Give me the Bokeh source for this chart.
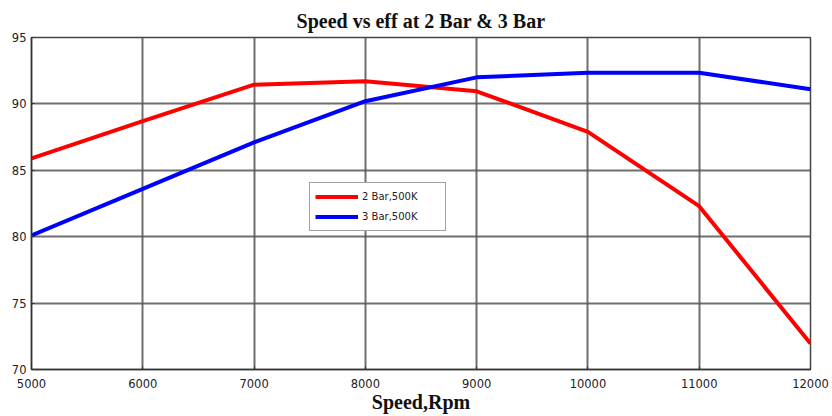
from bokeh.plotting import figure
from bokeh.models import Range1d, FixedTicker, Legend, LegendItem
from bokeh.embed import file_html
from bokeh.resources import INLINE

speed = [5000, 6000, 7000, 8000, 9000, 10000, 11000, 12000]
eff_2bar = [85.9, 88.7, 91.45, 91.7, 90.95, 87.9, 82.3, 71.95]
eff_3bar = [80.1, 83.6, 87.1, 90.2, 92.0, 92.35, 92.35, 91.1]
x_ticks = [5000, 6000, 7000, 8000, 9000, 10000, 11000, 12000]
y_ticks = [70, 75, 80, 85, 90, 95]
labels = ["2 Bar,500K", "3 Bar,500K"]

p = figure(width=832, height=416, output_backend="svg", toolbar_location=None,
           x_range=Range1d(5000, 12000), y_range=Range1d(70, 95),
           min_border_left=31, min_border_right=22, min_border_top=37, min_border_bottom=47,
           title="Speed vs eff at 2 Bar & 3 Bar")

p.title.text_font = "Liberation Serif"
p.title.text_font_size = "20px"
p.title.text_font_style = "bold"
p.title.align = "center"
p.title.text_color = "#111111"
p.title.offset = 4
p.title.standoff = 12

for ax in (p.xaxis, p.yaxis):
    ax.major_label_text_font = "DejaVu Sans"
    ax.major_label_text_font_size = "11.5px"
    ax.major_label_text_color = "#222222"
    ax.axis_line_color = "#333333"
    ax.axis_line_width = 1.5
    ax.major_tick_out = 0
    ax.major_tick_in = 3
    ax.minor_tick_line_color = None
    ax.major_tick_line_color = "#333333"

p.xaxis.ticker = FixedTicker(ticks=x_ticks)
p.yaxis.ticker = FixedTicker(ticks=y_ticks)
p.xaxis.major_label_standoff = 9
p.yaxis.major_label_standoff = 5
p.xaxis.axis_label = "Speed,Rpm"
p.xaxis.axis_label_text_font = "Liberation Serif"
p.xaxis.axis_label_text_font_size = "20px"
p.xaxis.axis_label_text_font_style = "bold"
p.xaxis.axis_label_text_color = "#111111"
p.xaxis.axis_label_standoff = 0

p.xgrid.grid_line_color = "#555555"
p.ygrid.grid_line_color = "#555555"
p.xgrid.grid_line_width = 2
p.ygrid.grid_line_width = 2
p.xgrid.grid_line_alpha = 0.85
p.ygrid.grid_line_alpha = 0.85

p.outline_line_color = "#444444"
p.outline_line_width = 1.5

r1 = p.line(speed, eff_2bar, line_color="#ff0000", line_width=4)
r2 = p.line(speed, eff_3bar, line_color="#0000ff", line_width=4)

legend = Legend(items=[LegendItem(label=labels[0], renderers=[r1]),
                       LegendItem(label=labels[1], renderers=[r2])],
                location=(278, 138))
legend.label_text_font = "DejaVu Sans"
legend.label_text_font_size = "10px"
legend.label_text_color = "#222222"
legend.glyph_width = 43
legend.glyph_height = 17
legend.label_height = 17
legend.label_width = 78
legend.label_standoff = 4
legend.spacing = 3
legend.padding = 5
legend.margin = 0
legend.border_line_color = "#444444"
legend.border_line_width = 1
legend.background_fill_alpha = 1
p.add_layout(legend, "center")

open("out.html", "w").write(file_html(p, INLINE))
